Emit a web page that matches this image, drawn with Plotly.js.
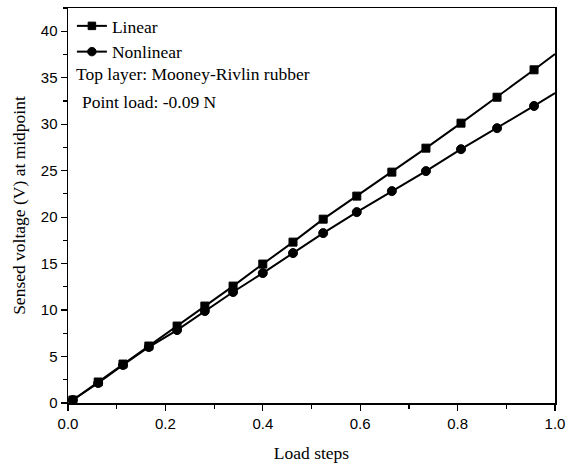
<!DOCTYPE html>
<html>
<head>
<meta charset="utf-8">
<script src="https://cdn.plot.ly/plotly-3.0.1.min.js"></script>
<style>html,body{margin:0;padding:0;background:#fff;}#chart{width:577px;height:466px;}</style>
</head>
<body>
<div id="chart"></div>
<script>
var loadSteps = [0.010, 0.062, 0.113, 0.166, 0.224, 0.281, 0.339, 0.400, 0.462, 0.524, 0.593, 0.665, 0.735, 0.807, 0.881, 0.957, 1.0];
var linearV = [0.32, 2.26, 4.19, 6.13, 8.28, 10.43, 12.58, 14.95, 17.31, 19.78, 22.26, 24.84, 27.42, 30.11, 32.90, 35.85, 37.55];
var nonlinearV = [0.32, 2.15, 4.09, 6.02, 7.85, 9.89, 11.94, 13.98, 16.13, 18.28, 20.54, 22.80, 24.95, 27.31, 29.57, 31.96, 33.35];
var seriesNames = ["Linear", "Nonlinear"];
var annotationTexts = ["Top layer: Mooney-Rivlin rubber", "Point load: -0.09 N"];

var serif = "Liberation Serif, Times New Roman, serif";
var sans = "Liberation Sans, Arial, sans-serif";

function sizes(n, s) { var a = []; for (var i = 0; i < n; i++) a.push(i === n - 1 ? 0 : s); return a; }

var traces = [
  {x: loadSteps, y: linearV, name: seriesNames[0], type: "scatter", mode: "lines+markers",
   line: {color: "#000", width: 2}, marker: {symbol: "square", size: sizes(loadSteps.length, 8), opacity: 1, color: "#000", line: {color: "#000", width: 1}}},
  {x: loadSteps, y: nonlinearV, name: seriesNames[1], type: "scatter", mode: "lines+markers",
   line: {color: "#000", width: 2}, marker: {symbol: "circle", size: sizes(loadSteps.length, 9), opacity: 1, color: "#000", line: {color: "#000", width: 1}}}
];

var axisCommon = {
  showline: true, linecolor: "#000", linewidth: 1.5, mirror: true,
  ticks: "outside", ticklen: 6, tickwidth: 1.2, tickcolor: "#000",
  showgrid: false, zeroline: false,
  tickfont: {family: sans, size: 15, color: "#000"}
};

var layout = {
  width: 577, height: 466,
  margin: {l: 68, r: 22, t: 8, b: 63},
  paper_bgcolor: "#fff", plot_bgcolor: "#fff",
  showlegend: true,
  legend: {x: 0.008, y: 1.0, xanchor: "left", yanchor: "top", bgcolor: "rgba(0,0,0,0)",
           font: {family: serif, size: 17.5, color: "#000"}, tracegroupgap: 0},
  xaxis: Object.assign({}, axisCommon, {
    range: [0, 1.0], tickvals: [0, 0.2, 0.4, 0.6, 0.8, 1.0], ticktext: ["0.0", "0.2", "0.4", "0.6", "0.8", "1.0"],
    minor: {dtick: 0.1, ticks: "outside", ticklen: 4, tickcolor: "#000", tickwidth: 1.2, showgrid: false},
    title: {text: "Load steps", font: {family: serif, size: 17.5, color: "#000"}, standoff: 16}
  }),
  yaxis: Object.assign({}, axisCommon, {
    range: [0, 42.5], tickvals: [0, 5, 10, 15, 20, 25, 30, 35, 40],
    minor: {dtick: 2.5, ticks: "outside", ticklen: 4, tickcolor: "#000", tickwidth: 1.2, showgrid: false},
    title: {text: "Sensed voltage (V) at midpoint", font: {family: serif, size: 17.5, color: "#000"}, standoff: 10}
  }),
  annotations: [
    {text: annotationTexts[0], xref: "paper", yref: "paper", x: 0.012, y: (403 - 74) / 395, xanchor: "left", yanchor: "middle",
     showarrow: false, font: {family: serif, size: 17.5, color: "#000"}},
    {text: annotationTexts[1], xref: "paper", yref: "paper", x: 0.025, y: (403 - 102) / 395, xanchor: "left", yanchor: "middle",
     showarrow: false, font: {family: serif, size: 17.5, color: "#000"}}
  ]
};

Plotly.newPlot("chart", traces, layout, {displayModeBar: false, staticPlot: true});
</script>
</body>
</html>
